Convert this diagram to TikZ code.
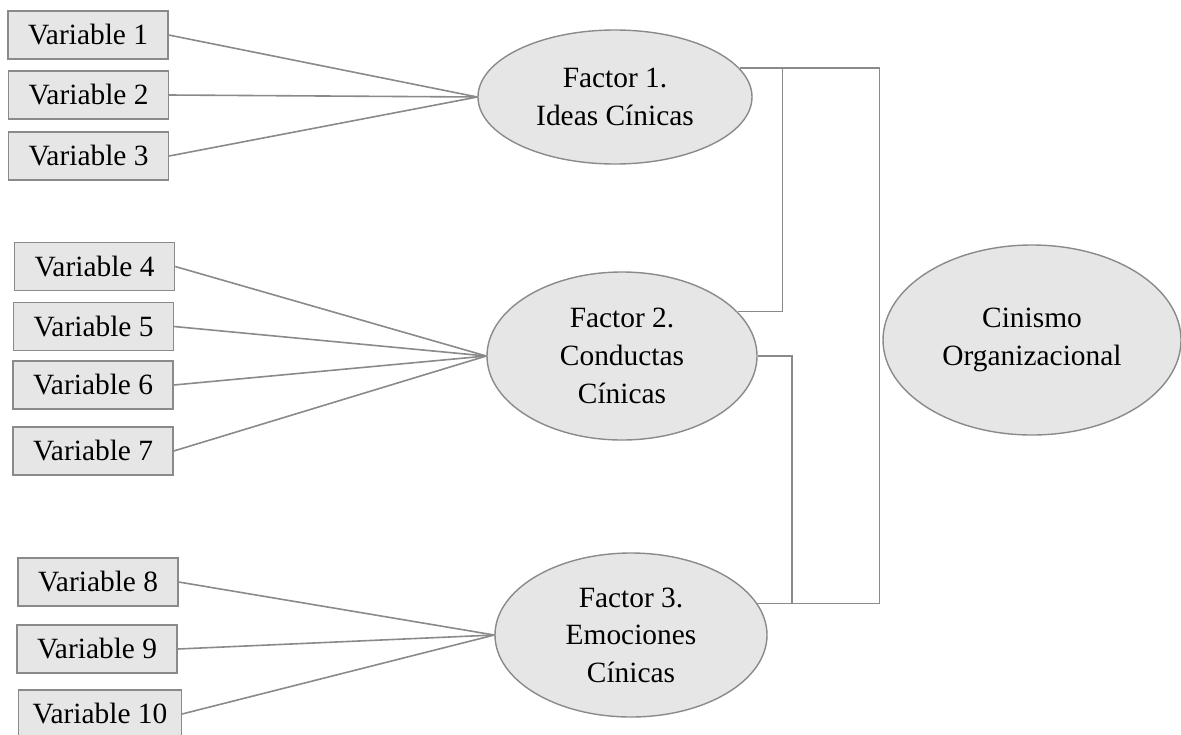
\documentclass[tikz,border=0pt]{standalone}
\usepackage{fontspec}
\setmainfont{Liberation Serif}
\usepackage{tikz}
\usetikzlibrary{shapes.geometric}
\definecolor{boxfill}{HTML}{E6E6E6}
\definecolor{edgegray}{HTML}{8A8A8A}
\tikzset{
	var/.style={draw=edgegray, fill=boxfill, line width=0.7pt, minimum width=80pt, minimum height=24pt, inner xsep=7pt, font=\fontsize{14.7}{18}\selectfont},
	factor/.style={ellipse, draw=edgegray, fill=boxfill, line width=0.7pt, inner sep=0pt, align=center, font=\fontsize{14.7}{18.8}\selectfont},
	link/.style={draw=edgegray, line width=0.8pt},
}

\begin{document}
\begin{tikzpicture}[x=0.5pt, y=-0.5pt]
		\useasboundingbox (0,0) rectangle (1181,734);

		\node[var] at (88, 35) (v1) {Variable 1};
		\node[var] at (88.5, 95) (v2) {Variable 2};
		\node[var] at (88.5, 156) (v3) {Variable 3};

		\node[var] at (94.5, 266.5) (v4) {Variable 4};
		\node[var] at (93.5, 326.5) (v5) {Variable 5};
		\node[var] at (93, 385) (v6) {Variable 6};
		\node[var] at (93, 451) (v7) {Variable 7};

		\node[var] at (98, 582) (v8) {Variable 8};
		\node[var] at (97, 649) (v9) {Variable 9};
		\node[var] at (100, 714) (v10) {Variable 10};

		\node[factor, minimum width=137pt, minimum height=67pt] at (615, 97) (f1) {Factor 1.\\Ideas Cínicas};
		\node[factor, minimum width=135pt, minimum height=84pt] at (622, 356) (f2) {Factor 2.\\Conductas\\Cínicas};
		\node[factor, minimum width=136pt, minimum height=82pt] at (631, 635) (f3) {Factor 3.\\Emociones\\Cínicas};
		\node[factor, minimum width=149pt, minimum height=95pt] at (1032, 340) (cin) {Cinismo\\Organizacional};

		\draw[link] (v1.east) -- (f1.west);
		\draw[link] (v2.east) -- (f1.west);
		\draw[link] (v3.east) -- (f1.west);

		\draw[link] (v4.east) -- (f2.west);
		\draw[link] (v5.east) -- (f2.west);
		\draw[link] (v6.east) -- (f2.west);
		\draw[link] (v7.east) -- (f2.west);

		\draw[link] (v8.east) -- (f3.west);
		\draw[link] (v9.east) -- (f3.west);
		\draw[link] (v10.east) -- (f3.west);

		\draw[link] (f1.13) -- ++(43,0) coordinate (b1) |- (f2.21);
		\draw[link] (f2.east) -- ++(34,0) coordinate (b2) -- (b2 |- f3.14) coordinate (b2end) -- (f3.14);
		\draw[link] (b1) -- ++(97,0) |- (b2end);
	\end{tikzpicture}
\end{document}
